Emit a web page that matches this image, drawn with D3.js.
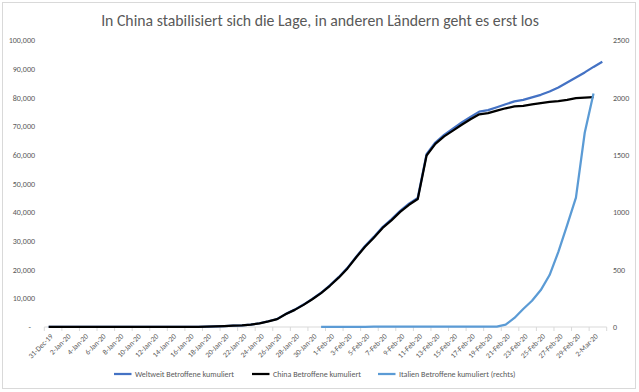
<!DOCTYPE html>
<html><head><meta charset="utf-8">
<script src="https://cdn.jsdelivr.net/npm/d3@7"></script>
<style>body{margin:0;background:#fff}svg{display:block}</style>
</head><body>
<svg id="c" width="639" height="392"></svg>
<script>
const title = "In China stabilisiert sich die Lage, in anderen Ländern geht es erst los";
const categories = ["31-Dec-19","1-Jan-20","2-Jan-20","3-Jan-20","4-Jan-20","5-Jan-20","6-Jan-20","7-Jan-20","8-Jan-20","9-Jan-20",
"10-Jan-20","11-Jan-20","12-Jan-20","13-Jan-20","14-Jan-20","15-Jan-20","16-Jan-20","17-Jan-20","18-Jan-20","19-Jan-20",
"20-Jan-20","21-Jan-20","22-Jan-20","23-Jan-20","24-Jan-20","25-Jan-20","26-Jan-20","27-Jan-20","28-Jan-20","29-Jan-20",
"30-Jan-20","31-Jan-20","1-Feb-20","2-Feb-20","3-Feb-20","4-Feb-20","5-Feb-20","6-Feb-20","7-Feb-20","8-Feb-20",
"9-Feb-20","10-Feb-20","11-Feb-20","12-Feb-20","13-Feb-20","14-Feb-20","15-Feb-20","16-Feb-20","17-Feb-20","18-Feb-20",
"19-Feb-20","20-Feb-20","21-Feb-20","22-Feb-20","23-Feb-20","24-Feb-20","25-Feb-20","26-Feb-20","27-Feb-20","28-Feb-20",
"29-Feb-20","1-Mar-20","2-Mar-20","3-Mar-20"];
const worldValues = [27,27,27,44,44,59,59,59,59,59,
59,41,41,42,42,43,47,65,125,203,
295,446,580,844,1312,2015,2801,4579,6061,7816,
9810,11944,14553,17388,20626,24536,28245,31426,34863,37542,
40544,43031,45048,60251,64356,67018,69183,71342,73240,75109,
75649,76665,77690,78705,79219,80117,80982,82161,83515,85260,
86993,88800,90717,92500];
const chinaValues = [27,27,27,44,44,59,59,59,59,59,
59,41,41,41,41,41,45,62,121,198,
291,440,571,830,1287,1975,2744,4515,5974,7711,
9692,11791,14380,17205,20438,24324,28018,31161,34546,37198,
40171,42638,44653,59804,63851,66492,68500,70548,72436,74185,
74576,75465,76288,76936,77150,77658,78064,78497,78824,79251,
79824,80026,80151,null];
const italyValues = [null,null,null,null,null,null,null,null,null,null,
null,null,null,null,null,null,null,null,null,null,
null,null,null,null,null,null,null,null,null,null,
null,2,2,2,2,2,2,3,3,3,
3,3,3,3,3,3,3,3,3,3,
3,3,20,79,157,229,322,453,655,888,
1128,1694,2036,null];
const leftTicks = [0,10000,20000,30000,40000,50000,60000,70000,80000,90000,100000];
const rightTicks = [0,500,1000,1500,2000,2500];
const seriesNames = ["Weltweit Betroffene kumuliert","China Betroffene kumuliert","Italien Betroffene kumuliert (rechts)"];
const seriesColors = ["#4472C4","#000000","#5B9BD5"];

const FONT = "Carlito, Calibri, Lato, sans-serif";
const svg = d3.select("#c");
svg.append("rect").attr("x",2.5).attr("y",2.5).attr("width",633).attr("height",386)
  .attr("fill","#fff").attr("stroke","#d9d9d9").attr("stroke-width",1);

const x0 = 44.3, x1 = 606.7, yB = 327, yT = 40.3;
const x = d3.scaleBand().domain(categories).range([x0,x1]).padding(0);
const bw = x.bandwidth();
const cx = d => x(d) + bw/2;
const yL = d3.scaleLinear().domain([0,100000]).range([yB,yT]);
const yR = d3.scaleLinear().domain([0,2500]).range([yB,yT]);

// title
const t = svg.append("text").attr("x",320).attr("y",26).attr("text-anchor","middle")
  .attr("fill","#595959").attr("font-family",FONT).attr("font-size",16).text(title);
const tw = t.node().getComputedTextLength();
t.attr("font-size", 16*438/tw);

// left axis
const fmtL = d => d===0 ? "-" : d3.format(",")(d);
const gl = svg.append("g").attr("transform",`translate(35,0)`)
  .call(d3.axisLeft(yL).tickValues(leftTicks).tickFormat(fmtL).tickSize(0).tickPadding(0));
gl.select(".domain").remove();
gl.selectAll("text").attr("fill","#595959").attr("font-family",FONT).attr("font-size",8)
  .attr("dx", d => d===0 ? "-4" : "0");

// right axis
const gr = svg.append("g").attr("transform",`translate(613,0)`)
  .call(d3.axisRight(yR).tickValues(rightTicks).tickFormat(d3.format("d")).tickSize(0).tickPadding(0));
gr.select(".domain").remove();
gr.selectAll("text").attr("fill","#595959").attr("font-family",FONT).attr("font-size",8);

// x axis
const gx = svg.append("g").attr("transform",`translate(0,${yB})`);
gx.append("line").attr("x1",x0).attr("x2",x1).attr("stroke","#d9d9d9").attr("stroke-width",1);
const tickCats = categories.filter((d,i)=>i%2===0);
gx.selectAll("line.tk").data(tickCats.concat(["__end"])).join("line").attr("class","tk")
  .attr("x1", d => d==="__end" ? x1 : x(d)).attr("x2", d => d==="__end" ? x1 : x(d))
  .attr("y1",0).attr("y2",4).attr("stroke","#d9d9d9").attr("stroke-width",1);
gx.selectAll("text").data(tickCats).join("text")
  .attr("transform", d => `translate(${cx(d)+3},8) rotate(-45)`)
  .attr("text-anchor","end").attr("dy","0.35em")
  .attr("fill","#595959").attr("font-family",FONT).attr("font-size",7.5).text(d=>d);

// lines
const mk = (vals, ys) => d3.line().defined(d => d[1]!=null)
  .x(d => cx(d[0])).y(d => ys(d[1]))(categories.map((c,i)=>[c,vals[i]]));
svg.append("path").attr("d",mk(worldValues,yL)).attr("fill","none").attr("stroke",seriesColors[0]).attr("stroke-width",2.25).attr("stroke-linejoin","round");
svg.append("path").attr("d",mk(chinaValues,yL)).attr("fill","none").attr("stroke",seriesColors[1]).attr("stroke-width",2.25).attr("stroke-linejoin","round");
svg.append("path").attr("d",mk(italyValues,yR)).attr("fill","none").attr("stroke",seriesColors[2]).attr("stroke-width",2.25).attr("stroke-linejoin","round");

// legend
const legX = [114, 252, 378];
const lg = svg.append("g").attr("transform","translate(0,374)");
seriesNames.forEach((n,i)=>{
  lg.append("line").attr("x1",legX[i]).attr("x2",legX[i]+17.5).attr("stroke",seriesColors[i]).attr("stroke-width",2.25);
  lg.append("text").attr("x",legX[i]+21).attr("dy","0.35em").attr("fill","#595959")
    .attr("font-family",FONT).attr("font-size",8).text(n);
});
</script>
</body></html>
